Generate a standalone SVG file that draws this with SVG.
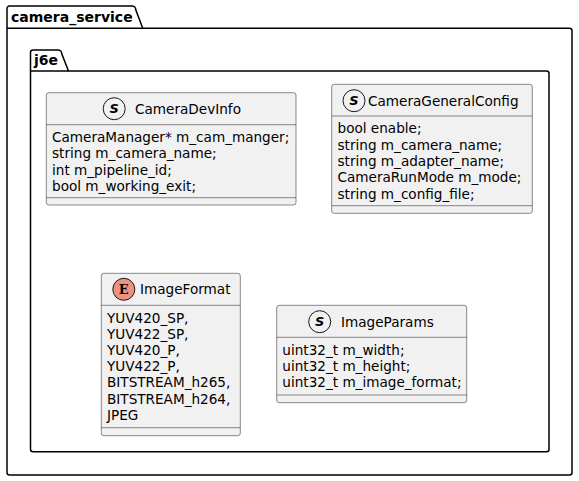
<svg xmlns="http://www.w3.org/2000/svg" width="579" height="481" viewBox="0 0 579 481">
<style>
.pkg{fill:none;stroke:#000000;stroke-width:1.5}
.ptitle{font-family:"DejaVu Sans",sans-serif;font-size:14px;font-weight:bold;fill:#000000}
.box{fill:#F1F1F1;stroke:#181818;stroke-width:0.5}
.sep{stroke:#181818;stroke-width:0.5}
.name{font-family:"DejaVu Sans",sans-serif;font-size:13.6px;fill:#000000}
.attr{font-family:"DejaVu Sans",sans-serif;font-size:13.6px;fill:#000000}
.spotS{fill:#F1F1F1;stroke:#181818;stroke-width:1}
.spotE{fill:#EB937F;stroke:#181818;stroke-width:1}
.letS{font-family:"DejaVu Sans",sans-serif;font-size:13px;font-weight:bold;font-style:italic;fill:#000000}
.letE{font-family:"DejaVu Serif",serif;font-size:13px;font-weight:bold;fill:#000000}
</style>
<rect width="579" height="481" fill="#FFFFFF"/>
<g id="pkg-camera_service">
<path class="pkg" d="M9.5,6 L132,6 A3.75,3.75 0 0 1 135.75,9.75 L142.75,28.3 L569.5,28.3 A2.5,2.5 0 0 1 572,30.8 L572,472.5 A2.5,2.5 0 0 1 569.5,475 L9.5,475 A2.5,2.5 0 0 1 7,472.5 L7,8.5 A2.5,2.5 0 0 1 9.5,6 Z"/>
<line class="pkg" x1="7" y1="28.3" x2="142.75" y2="28.3"/>
<text class="ptitle" x="11" y="21.5">camera_service</text>
</g>
<g id="pkg-j6e">
<path class="pkg" d="M33,50 L58,50 A3.75,3.75 0 0 1 61.75,53.75 L68.5,71 L546.5,71 A2.5,2.5 0 0 1 549,73.5 L549,449.2 A2.5,2.5 0 0 1 546.5,451.7 L33,451.7 A2.5,2.5 0 0 1 30.5,449.2 L30.5,52.5 A2.5,2.5 0 0 1 33,50 Z"/>
<line class="pkg" x1="30.5" y1="71" x2="68.5" y2="71"/>
<text class="ptitle" x="34" y="65">j6e</text>
</g>
<g id="CameraDevInfo">
<rect class="box" x="46.3" y="92.7" width="249.7" height="112.3" rx="2.5"/>
<circle class="spotS" cx="114.2" cy="108.7" r="11"/>
<text class="letS" x="114.2" y="113.3" text-anchor="middle">S</text>
<text class="name" x="135" y="113.5">CameraDevInfo</text>
<line class="sep" x1="46.3" y1="124.7" x2="296" y2="124.7"/>
<text class="attr" x="52" y="141.9">CameraManager* m_cam_manger;</text>
<text class="attr" x="52" y="158.2">string m_camera_name;</text>
<text class="attr" x="52" y="174.5">int m_pipeline_id;</text>
<text class="attr" x="52" y="190.8">bool m_working_exit;</text>
<line class="sep" x1="46.3" y1="197.7" x2="296" y2="197.7"/>
</g>
<g id="CameraGeneralConfig">
<rect class="box" x="331.7" y="84.3" width="200.6" height="129" rx="2.5"/>
<circle class="spotS" cx="354" cy="100.7" r="11"/>
<text class="letS" x="354" y="105.3" text-anchor="middle">S</text>
<text class="name" x="368" y="105.5">CameraGeneralConfig</text>
<line class="sep" x1="331.7" y1="116" x2="532.3" y2="116"/>
<text class="attr" x="337.5" y="133.3">bool enable;</text>
<text class="attr" x="337.5" y="149.6">string m_camera_name;</text>
<text class="attr" x="337.5" y="165.9">string m_adapter_name;</text>
<text class="attr" x="337.5" y="182.2">CameraRunMode m_mode;</text>
<text class="attr" x="337.5" y="198.5">string m_config_file;</text>
<line class="sep" x1="331.7" y1="205.7" x2="532.3" y2="205.7"/>
</g>
<g id="ImageFormat">
<rect class="box" x="101.3" y="273.3" width="139" height="162.4" rx="2.5"/>
<circle class="spotE" cx="123.8" cy="289.3" r="11"/>
<text class="letE" x="123.8" y="294" text-anchor="middle">E</text>
<text class="name" x="140" y="294.1">ImageFormat</text>
<line class="sep" x1="101.3" y1="305.3" x2="240.3" y2="305.3"/>
<text class="attr" x="107" y="322.6">YUV420_SP,</text>
<text class="attr" x="107" y="338.8">YUV422_SP,</text>
<text class="attr" x="107" y="355">YUV420_P,</text>
<text class="attr" x="107" y="371.2">YUV422_P,</text>
<text class="attr" x="107" y="387.4">BITSTREAM_h265,</text>
<text class="attr" x="107" y="403.6">BITSTREAM_h264,</text>
<text class="attr" x="107" y="419.8">JPEG</text>
<line class="sep" x1="101.3" y1="427.7" x2="240.3" y2="427.7"/>
</g>
<g id="ImageParams">
<rect class="box" x="276.7" y="305.3" width="190" height="97.4" rx="2.5"/>
<circle class="spotS" cx="319.7" cy="321.7" r="11"/>
<text class="letS" x="319.7" y="326.3" text-anchor="middle">S</text>
<text class="name" x="341" y="326.5">ImageParams</text>
<line class="sep" x1="276.7" y1="337.3" x2="466.7" y2="337.3"/>
<text class="attr" x="282.3" y="354.6">uint32_t m_width;</text>
<text class="attr" x="282.3" y="370.9">uint32_t m_height;</text>
<text class="attr" x="282.3" y="387.2">uint32_t m_image_format;</text>
<line class="sep" x1="276.7" y1="395" x2="466.7" y2="395"/>
</g>
<g id="connectors"></g>
</svg>
